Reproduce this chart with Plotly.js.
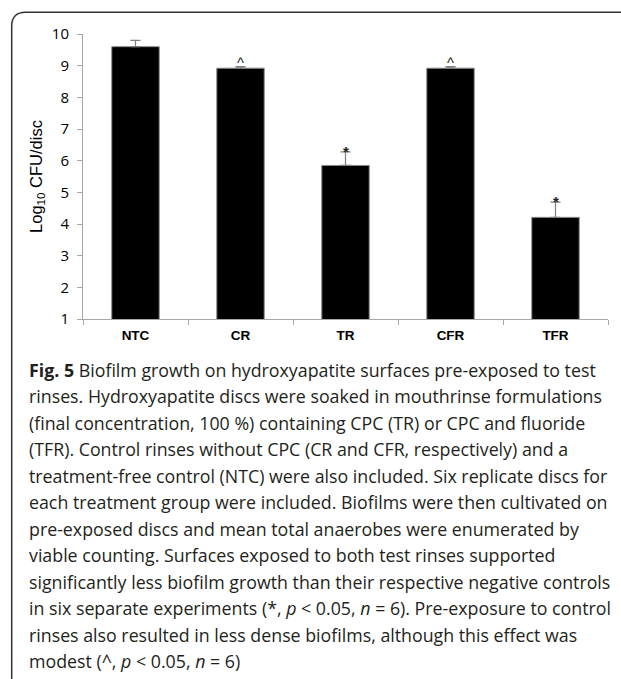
<!DOCTYPE html>
<html>
<head>
<meta charset="utf-8">
<script src="https://cdn.plot.ly/plotly-3.0.1.min.js"></script>
<style>html,body{margin:0;padding:0;background:#fff;}#chart{width:621px;height:679px;}</style>
</head>
<body>
<div id="chart"></div>
<script>
// ---- data ----
const categories = ["NTC", "CR", "TR", "CFR", "TFR"];
const meanLogCFU = [9.6, 8.92, 5.85, 8.92, 4.21];
const errorPlus = [0.2, 0.05, 0.43, 0.05, 0.48];
const sigMarks = ["", "^", "*", "^", "*"];
const yTickValues = [1, 2, 3, 4, 5, 6, 7, 8, 9, 10];
const captionLines = [
  "<b>Fig. 5</b> Biofilm growth on hydroxyapatite surfaces pre-exposed to test",
  "rinses. Hydroxyapatite discs were soaked in mouthrinse formulations",
  "(final concentration, 100 %) containing CPC (TR) or CPC and fluoride",
  "(TFR). Control rinses without CPC (CR and CFR, respectively) and a",
  "treatment-free control (NTC) were also included. Six replicate discs for",
  "each treatment group were included. Biofilms were then cultivated on",
  "pre-exposed discs and mean total anaerobes were enumerated by",
  "viable counting. Surfaces exposed to both test rinses supported",
  "significantly less biofilm growth than their respective negative controls",
  "in six separate experiments (*, <i>p</i> &lt; 0.05, <i>n</i> = 6). Pre-exposure to control",
  "rinses also resulted in less dense biofilms, although this effect was",
  "modest (^, <i>p</i> &lt; 0.05, <i>n</i> = 6)"
];

// ---- layout helpers (pixel -> paper) ----
const W = 621, H = 679;
const M = {l: 83, r: 13, t: 33.5, b: 359.7};
const PW = W - M.l - M.r, PH = H - M.t - M.b;
const px2x = p => (p - M.l) / PW;
const py2y = p => (H - M.b - p) / PH;

const trace = {
  type: "bar",
  x: categories,
  y: meanLogCFU,
  marker: {color: "#000000", line: {color: "#8c8c8c", width: 1}},
  error_y: {type: "data", symmetric: false, array: errorPlus,
            arrayminus: errorPlus.map(() => 0), color: "#7f7f7f", thickness: 1.2, width: 5},
  hoverinfo: "x+y"
};

const markAnn = categories.map((c, i) => ({
  x: c, y: meanLogCFU[i] + errorPlus[i], xref: "x", yref: "y",
  text: sigMarks[i], showarrow: false, yanchor: "bottom",
  yshift: sigMarks[i] === "*" ? -10 : -6,
  font: {family: "Liberation Sans, Arial, sans-serif", size: 15, color: "#222",
         weight: sigMarks[i] === "*" ? "bold" : "normal"}
})).filter(a => a.text !== "");

const capFont = {family: "Open Sans, Noto Sans, sans-serif", size: 17.8, color: "#231f20"};
const capAnn = captionLines.map((t, i) => ({
  x: px2x(27), y: py2y(370 + 26.6 * i), xref: "paper", yref: "paper",
  xanchor: "left", yanchor: "middle", align: "left", showarrow: false,
  text: t, font: capFont
}));

const x0 = px2x(11.7), yTop = py2y(11.7), yBot = py2y(690), xR = px2x(640);
const rx = 14 / PW, ry = 14 / PH;
const framePath = `M ${x0},${yBot} L ${x0},${yTop - ry} Q ${x0},${yTop} ${x0 + rx},${yTop} L ${xR},${yTop}`;

const layout = {
  width: W, height: H,
  margin: M,
  paper_bgcolor: "#ffffff", plot_bgcolor: "#ffffff",
  showlegend: false,
  bargap: 0.548,
  xaxis: {
    type: "category", range: [-0.5, 4.5],
    showline: true, linecolor: "#a6a6a6", linewidth: 1,
    ticks: "outside", tickson: "boundaries", ticklen: 5, tickcolor: "#a6a6a6",
    showgrid: false, zeroline: false,
    tickfont: {family: "Liberation Sans, Arial, sans-serif", size: 13.5, color: "#000", weight: "bold"},
    ticklabelstandoff: 4
  },
  yaxis: {
    range: [1, 10], tickvals: yTickValues, ticktext: yTickValues.map(String),
    showline: true, linecolor: "#a6a6a6", linewidth: 1,
    ticks: "outside", ticklen: 5, tickcolor: "#a6a6a6",
    showgrid: false, zeroline: false,
    tickfont: {family: "Open Sans, Liberation Sans, sans-serif", size: 15, color: "#000"},
    ticklabelstandoff: 5,
    title: {text: "Log<sub>10</sub> CFU/disc", standoff: 5,
            font: {family: "Liberation Sans, Arial, sans-serif", size: 16.5, color: "#000"}}
  },
  shapes: [{type: "path", xref: "paper", yref: "paper", path: framePath,
            line: {color: "#333333", width: 1.5}}],
  annotations: markAnn.concat(capAnn)
};

Plotly.newPlot("chart", [trace], layout, {displayModeBar: false, staticPlot: true});
</script>
</body>
</html>
